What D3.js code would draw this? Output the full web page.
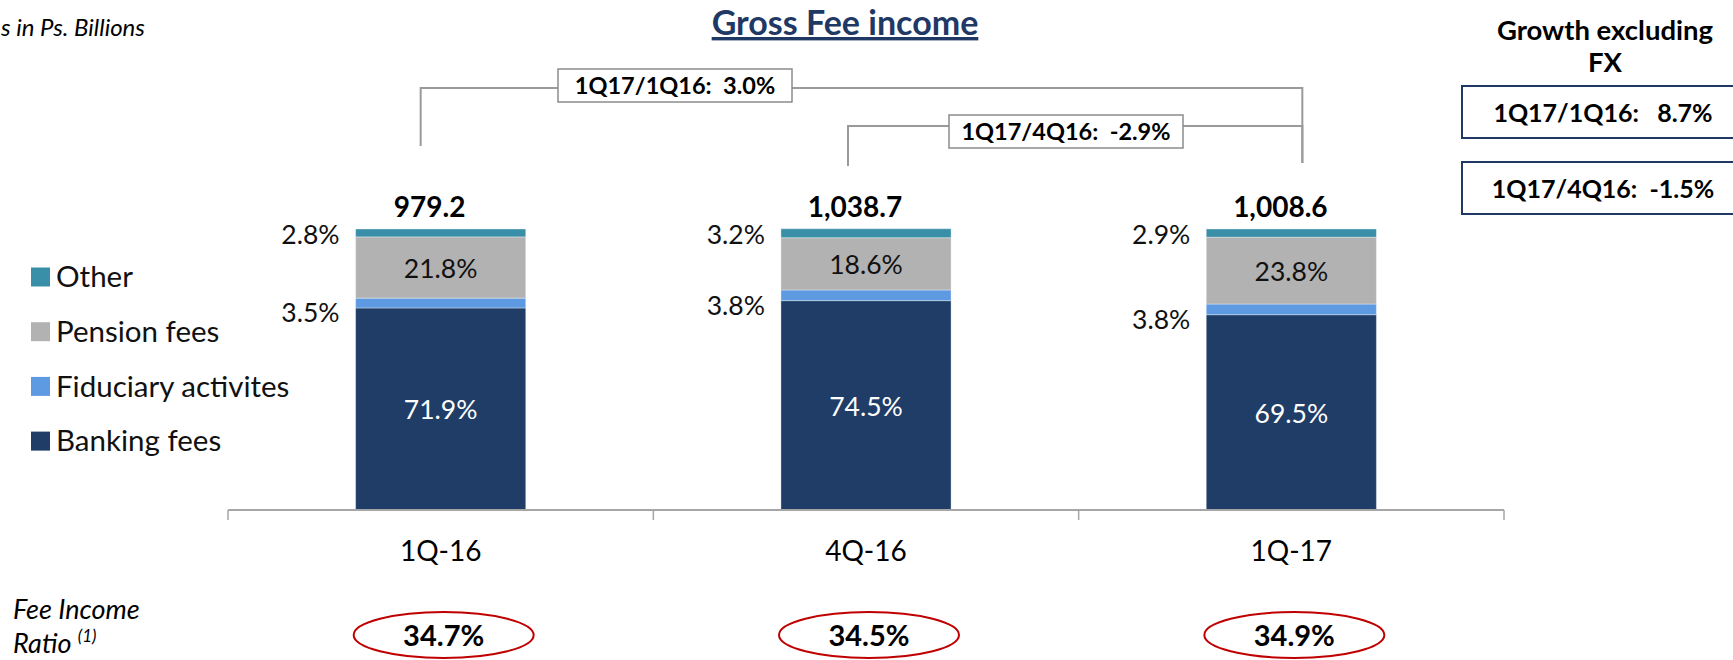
<!DOCTYPE html>
<html>
<head>
<meta charset="utf-8">
<script src="https://cdn.jsdelivr.net/npm/d3@7"></script>
<style>
  body { margin: 0; background: #fff; }
  text { font-family: Lato, "Open Sans", sans-serif; }
</style>
</head>
<body>
<div id="chart"></div>
<script>
const width = 1733;
const height = 660;

// values (shares in %, totals in Ps. billions)
const categories = ["1Q-16", "4Q-16", "1Q-17"];
const seriesNames = ["Banking fees", "Fiduciary activites", "Pension fees", "Other"];
const bankingFees = [71.9, 74.5, 69.5];
const fiduciary = [3.5, 3.8, 3.8];
const pensionFees = [21.8, 18.6, 23.8];
const other = [2.8, 3.2, 2.9];
const totals = [979.2, 1038.7, 1008.6];
const feeIncomeRatio = [34.7, 34.5, 34.9];
const growthLabels = ["1Q17/1Q16:  3.0%", "1Q17/4Q16:  -2.9%"];
const fxGrowthLabels = ["1Q17/1Q16:   8.7%", "1Q17/4Q16:  -1.5%"];

const color = d3.scaleOrdinal()
  .domain(seriesNames)
  .range(["#1F3D66", "#5E9AE2", "#B2B2B2", "#3A8FA8"]);

const rows = categories.map(function(c, i) {
  return {
    category: c,
    "Banking fees": bankingFees[i],
    "Fiduciary activites": fiduciary[i],
    "Pension fees": pensionFees[i],
    "Other": other[i]
  };
});

const stacked = d3.stack().keys(seriesNames)(rows);

const x = d3.scaleBand()
  .domain(categories)
  .range([228, 1504])
  .paddingInner(0.6)
  .paddingOuter(0.3);

const y = d3.scaleLinear()
  .domain([0, 100])
  .range([510, 229]);

const pct = d3.format(".1f");
const fmtTotal = d3.format(",.1f");

const svg = d3.select("#chart")
  .append("svg")
  .attr("width", width)
  .attr("height", height);

function cx(c) {
  return x(c) + x.bandwidth() / 2;
}

// units note and title
svg.append("text")
  .attr("x", 1)
  .attr("y", 36)
  .style("font-style", "italic")
  .style("font-size", "24px")
  .text("s in Ps. Billions");

svg.append("text")
  .attr("x", 845)
  .attr("y", 35)
  .attr("text-anchor", "middle")
  .attr("fill", "#1F3864")
  .style("font-weight", "700")
  .style("font-size", "34px")
  .style("text-decoration", "underline")
  .text("Gross Fee income");

// stacked bars
const layer = svg.selectAll("g.layer")
  .data(stacked)
  .enter()
  .append("g")
  .attr("class", "layer")
  .attr("fill", function(d) {
    return color(d.key);
  });

layer.selectAll("rect")
  .data(function(d) { return d; })
  .enter()
  .append("rect")
  .attr("x", function(d) { return x(d.data.category); })
  .attr("y", function(d) { return y(d[1]); })
  .attr("width", x.bandwidth())
  .attr("height", function(d) { return y(d[0]) - y(d[1]); })
  .attr("stroke", "rgba(255,255,255,0.35)")
  .attr("stroke-width", 1);

// segment labels: big segments inside, thin ones to the left of the bar
stacked.forEach(function(s) {
  const inside = s.key === "Banking fees" || s.key === "Pension fees";
  svg.selectAll(null)
    .data(s)
    .enter()
    .append("text")
    .attr("x", function(d) {
      return inside ? cx(d.data.category) : x(d.data.category) - 16;
    })
    .attr("y", function(d) {
      const mid = (y(d[0]) + y(d[1])) / 2;
      if (s.key === "Other") return mid + 2;
      if (s.key === "Fiduciary activites") return mid + 10;
      return mid + 1;
    })
    .attr("dy", "0.35em")
    .attr("text-anchor", inside ? "middle" : "end")
    .attr("fill", s.key === "Banking fees" ? "#fff" : "#111")
    .style("font-size", "26.5px")
    .text(function(d) {
      return pct(d.data[s.key]) + "%";
    });
});

// totals above bars
svg.selectAll("text.total")
  .data(categories)
  .enter()
  .append("text")
  .attr("class", "total")
  .attr("x", function(d) { return cx(d) - 11; })
  .attr("y", y(100) - 12)
  .attr("text-anchor", "middle")
  .style("font-weight", "700")
  .style("font-size", "28px")
  .text(function(d, i) { return fmtTotal(totals[i]); });

// category axis with ticks between bands
const axisY = y(0);
svg.append("line")
  .attr("x1", x.range()[0])
  .attr("x2", x.range()[1])
  .attr("y1", axisY)
  .attr("y2", axisY)
  .attr("stroke", "#A6A6A6")
  .attr("stroke-width", 2);

svg.selectAll("line.tick")
  .data(d3.range(categories.length + 1))
  .enter()
  .append("line")
  .attr("class", "tick")
  .attr("x1", function(i) { return x.range()[0] + i * x.step(); })
  .attr("x2", function(i) { return x.range()[0] + i * x.step(); })
  .attr("y1", axisY)
  .attr("y2", axisY + 10)
  .attr("stroke", "#A6A6A6")
  .attr("stroke-width", 1.5);

svg.selectAll("text.cat")
  .data(categories)
  .enter()
  .append("text")
  .attr("class", "cat")
  .attr("x", function(d) { return cx(d); })
  .attr("y", 561)
  .attr("text-anchor", "middle")
  .style("font-size", "28px")
  .text(function(d) { return d; });

// legend
const legend = svg.selectAll("g.legend")
  .data(seriesNames.slice().reverse())
  .enter()
  .append("g")
  .attr("class", "legend")
  .attr("transform", function(d, i) {
    return "translate(31," + (277 + i * 54.7) + ")";
  });

legend.append("rect")
  .attr("x", 0)
  .attr("y", -9.5)
  .attr("width", 19)
  .attr("height", 19)
  .attr("fill", function(d) { return color(d); });

legend.append("text")
  .attr("x", 25)
  .attr("y", 0)
  .attr("dy", "0.35em")
  .style("font-size", "29.5px")
  .attr("fill", "#111")
  .text(function(d) { return d; });

// growth brackets
const bracketColor = "#9A9A9A";
const brackets = [
  { from: categories[0], to: categories[2], top: 88, left: -20, right: 11, drop1: 146, drop2: 163, box: 675 },
  { from: categories[1], to: categories[2], top: 126, left: -18, right: 11, drop1: 166, drop2: 163, box: 1066 }
];

brackets.forEach(function(b, i) {
  const x1 = cx(b.from) + b.left;
  const x2 = cx(b.to) + b.right;
  svg.append("path")
    .attr("d", "M" + x1 + "," + b.drop1 + "V" + b.top + "H" + x2 + "V" + b.drop2)
    .attr("fill", "none")
    .attr("stroke", bracketColor)
    .attr("stroke-width", 2);

  const boxTop = i === 0 ? 69 : 115;
  svg.append("rect")
    .attr("x", b.box - 117)
    .attr("y", boxTop)
    .attr("width", 234)
    .attr("height", 33)
    .attr("fill", "#fff")
    .attr("stroke", "#8C8C8C")
    .attr("stroke-width", 1.5);

  svg.append("text")
    .attr("x", b.box)
    .attr("y", boxTop + 25)
    .attr("text-anchor", "middle")
    .style("font-weight", "700")
    .style("font-size", "23.5px")
    .style("white-space", "pre")
    .text(growthLabels[i]);
});

// growth excluding FX panel
svg.append("text")
  .attr("x", 1605)
  .attr("y", 40)
  .attr("text-anchor", "middle")
  .style("font-weight", "700")
  .style("font-size", "27.5px")
  .text("Growth excluding");

svg.append("text")
  .attr("x", 1605)
  .attr("y", 72)
  .attr("text-anchor", "middle")
  .style("font-weight", "700")
  .style("font-size", "27.5px")
  .text("FX");

fxGrowthLabels.forEach(function(t, i) {
  const top = 86 + i * 76;
  svg.append("rect")
    .attr("x", 1462)
    .attr("y", top)
    .attr("width", 300)
    .attr("height", 52)
    .attr("fill", "none")
    .attr("stroke", "#1F3864")
    .attr("stroke-width", 2);

  svg.append("text")
    .attr("x", 1603)
    .attr("y", top + 36)
    .attr("text-anchor", "middle")
    .style("font-weight", "700")
    .style("font-size", "25px")
    .style("white-space", "pre")
    .text(t);
});

// fee income ratio row, two lines
svg.append("text")
  .attr("x", 13)
  .attr("y", 619)
  .style("font-style", "italic")
  .style("font-size", "27px")
  .text("Fee Income");

const ratioLine = svg.append("text")
  .attr("x", 13)
  .attr("y", 653)
  .style("font-style", "italic")
  .style("font-size", "27px");
ratioLine.append("tspan").text("Ratio ");
ratioLine.append("tspan")
  .style("font-size", "17px")
  .attr("dy", -11)
  .text("(1)");

const ratio = svg.selectAll("g.ratio")
  .data(categories)
  .enter()
  .append("g")
  .attr("class", "ratio")
  .attr("transform", function(d) {
    return "translate(" + (cx(d) + 3) + ",635)";
  });

ratio.append("ellipse")
  .attr("rx", 90)
  .attr("ry", 23)
  .attr("fill", "none")
  .attr("stroke", "#C00000")
  .attr("stroke-width", 2);

ratio.append("text")
  .attr("y", 11)
  .attr("text-anchor", "middle")
  .style("font-weight", "700")
  .style("font-size", "29px")
  .text(function(d, i) { return pct(feeIncomeRatio[i]) + "%"; });
</script>
</body>
</html>
